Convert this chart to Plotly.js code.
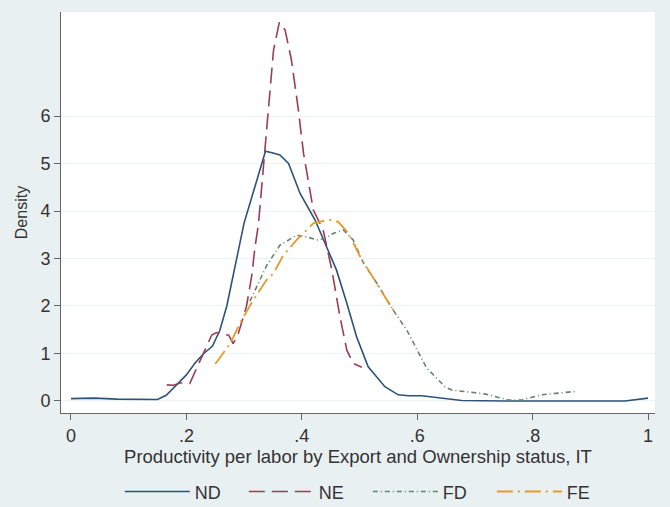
<!DOCTYPE html>
<html>
<head>
<meta charset="utf-8">
<script src="https://cdn.plot.ly/plotly-3.0.1.min.js"></script>
<style>
  html, body { margin: 0; padding: 0; background: #e9f0f2; }
  #grafico { width: 670px; height: 507px; }
</style>
</head>
<body>
<div id="grafico"></div>
<script>
// densidades
const ndX = [0, 0.04, 0.08, 0.12, 0.15, 0.165, 0.18, 0.2, 0.215, 0.23, 0.245, 0.258, 0.27, 0.28, 0.29, 0.30, 0.316, 0.33, 0.337, 0.35, 0.362, 0.377, 0.397, 0.423, 0.443, 0.46, 0.478, 0.495, 0.515, 0.544, 0.567, 0.585, 0.608, 0.64, 0.677, 0.75, 0.85, 0.96, 1.0];
const ndY = [0.05, 0.06, 0.04, 0.04, 0.03, 0.12, 0.3, 0.55, 0.8, 1.0, 1.15, 1.49, 2.0, 2.6, 3.2, 3.75, 4.4, 5.0, 5.26, 5.22, 5.18, 5.0, 4.37, 3.81, 3.25, 2.76, 2.06, 1.35, 0.72, 0.3, 0.13, 0.11, 0.11, 0.06, 0.01, 0, 0, 0, 0.06];

const neX = [0.166, 0.178, 0.189, 0.206, 0.22, 0.232, 0.244, 0.252, 0.264, 0.273, 0.281, 0.29, 0.304, 0.313, 0.319, 0.325, 0.336, 0.342, 0.351, 0.361, 0.371, 0.382, 0.394, 0.403, 0.408, 0.42, 0.437, 0.452, 0.466, 0.478, 0.489, 0.504];
const neY = [0.34, 0.33, 0.38, 0.37, 0.75, 1.07, 1.39, 1.44, 1.39, 1.39, 1.21, 1.42, 1.99, 2.62, 3.25, 3.74, 5.28, 6.13, 7.39, 7.97, 7.81, 7.18, 6.13, 5.21, 4.86, 4.02, 3.6, 2.76, 1.78, 1.07, 0.79, 0.71];

const fdX = [0.31, 0.319, 0.339, 0.362, 0.391, 0.41, 0.426, 0.44, 0.455, 0.472, 0.489, 0.507, 0.53, 0.558, 0.582, 0.616, 0.635, 0.648, 0.66, 0.717, 0.758, 0.781, 0.816, 0.85, 0.873];
const fdY = [2.1, 2.34, 2.85, 3.28, 3.49, 3.45, 3.39, 3.42, 3.53, 3.6, 3.39, 2.9, 2.48, 1.92, 1.49, 0.7, 0.45, 0.3, 0.23, 0.15, 0.02, 0.02, 0.13, 0.18, 0.2];

const feX = [0.25, 0.276, 0.293, 0.316, 0.339, 0.351, 0.368, 0.391, 0.42, 0.446, 0.463, 0.481, 0.501, 0.53, 0.558, 0.564];
const feY = [0.78, 1.21, 1.64, 2.13, 2.55, 2.69, 3.07, 3.39, 3.74, 3.82, 3.77, 3.53, 3.04, 2.48, 1.92, 1.88];

const xTicks = [0, 0.2, 0.4, 0.6, 0.8, 1];
const xTickLabels = ["0", ".2", ".4", ".6", ".8", "1"];
const yTicks = [0, 1, 2, 3, 4, 5, 6];

var fuente = "Liberation Sans, Arial, sans-serif";

var trazas = [
    { x: ndX, y: ndY, type: 'scatter', mode: 'lines', name: 'ND',
      line: { color: '#2c5379', width: 1.6 } },
    { x: neX, y: neY, type: 'scatter', mode: 'lines', name: 'NE',
      line: { color: '#9a3e55', width: 1.6, dash: '16px,7px' } },
    { x: fdX, y: fdY, type: 'scatter', mode: 'lines', name: 'FD',
      line: { color: '#66846f', width: 1.6, dash: '5px,3px,1px,3px' } },
    { x: feX, y: feY, type: 'scatter', mode: 'lines', name: 'FE',
      line: { color: '#e69a2c', width: 1.8, dash: '16px,5px,2px,5px' } }
];

var layout = {
    width: 670,
    height: 507,
    paper_bgcolor: '#e9f0f2',
    plot_bgcolor: '#ffffff',
    margin: { l: 61, r: 15, t: 12, b: 94 },
    font: { family: fuente, size: 15, color: '#333333' },
    showlegend: true,
    legend: {
        orientation: 'h', x: 0.549, xanchor: 'center', xref: 'container',
        y: 0.03, yanchor: 'middle', yref: 'container',
        bgcolor: 'rgba(0,0,0,0)', font: { size: 18, color: '#333333' },
        itemwidth: 65, entrywidth: 44, traceorder: 'normal'
    },
    xaxis: {
        range: [-0.0173, 1.012],
        tickvals: xTicks, ticktext: xTickLabels,
        ticks: 'outside', ticklen: 6, tickcolor: '#666666',
        showline: true, linecolor: '#666666', linewidth: 1,
        showgrid: false, zeroline: false, automargin: false,
        tickfont: { size: 18 },
        title: { text: 'Productivity per labor by Export and Ownership status, IT',
                 font: { size: 18.5 }, standoff: 0 }
    },
    yaxis: {
        range: [-0.253, 8.19],
        tickvals: yTicks,
        ticks: 'outside', ticklen: 6, tickcolor: '#666666',
        showline: true, linecolor: '#666666', linewidth: 1,
        showgrid: true, gridcolor: '#edf2f3', zeroline: false, automargin: false,
        tickfont: { size: 18 },
        title: { text: 'Density', font: { size: 16 }, standoff: 8 }
    }
};

Plotly.newPlot('grafico', trazas, layout, { displayModeBar: false });
</script>
</body>
</html>
